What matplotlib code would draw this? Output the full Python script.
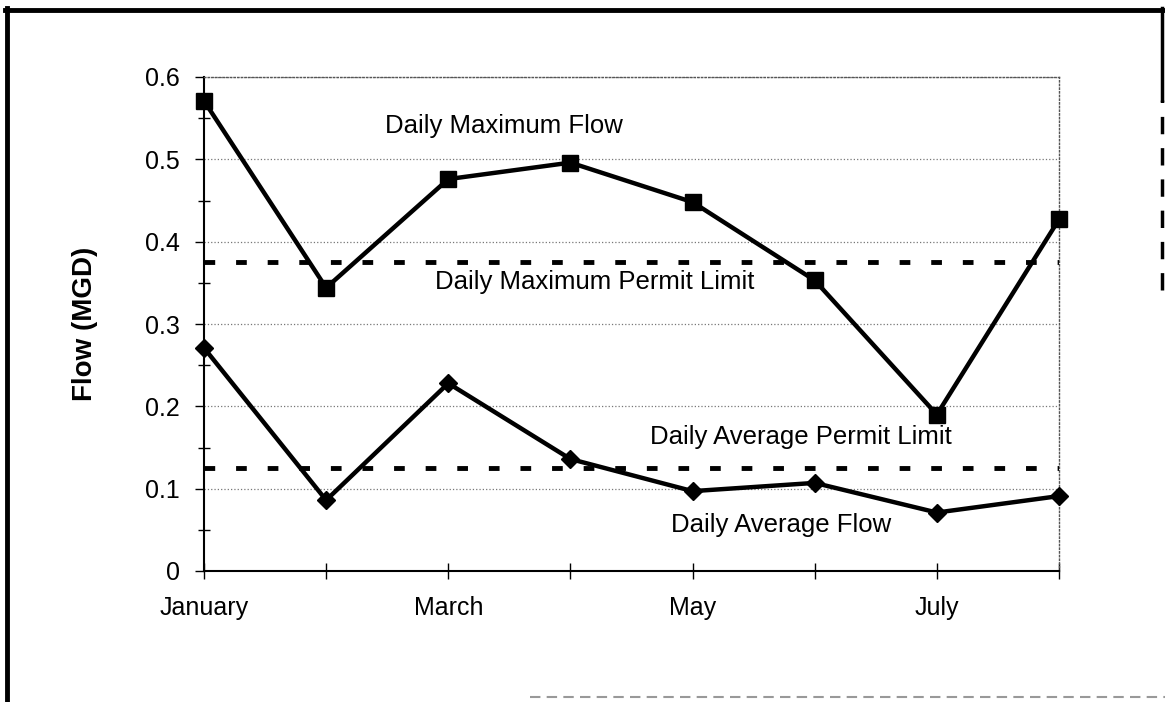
import matplotlib
matplotlib.use("Agg")
import matplotlib.pyplot as plt
from matplotlib import ticker
from matplotlib.lines import Line2D

plt.rcParams['font.family'] = ['Liberation Sans', 'DejaVu Sans']

# data
months = ['January', 'February', 'March', 'April', 'May', 'June', 'July', 'August']
month_labels = ['January', '', 'March', '', 'May', '', 'July', '']
max_flow = [0.571, 0.344, 0.476, 0.496, 0.448, 0.353, 0.190, 0.427]
avg_flow = [0.271, 0.086, 0.228, 0.136, 0.097, 0.107, 0.071, 0.091]
max_limit = 0.375
avg_limit = 0.125

fig = plt.figure(figsize=(11.65, 7.02), dpi=100)
ax = fig.add_axes([204/1165, 1 - 571/702, 855/1165, 494/702])

x = list(range(len(months)))

# permit limits (dashed)
for lim in [max_limit, avg_limit]:
    ax.plot([x[0], x[-1]], [lim, lim], color='black', lw=3.5,
            dashes=(2.2, 4.3), dash_capstyle='butt', zorder=3)

ax.plot(x, max_flow, color='black', lw=3.2, marker='s', markersize=12, zorder=4, clip_on=False)
ax.plot(x, avg_flow, color='black', lw=3.2, marker='D', markersize=9, zorder=4, clip_on=False)

ax.set_xlim(x[0], x[-1])
ax.set_ylim(0, 0.6)

ax.yaxis.set_major_locator(ticker.MultipleLocator(0.1))
ax.yaxis.set_minor_locator(ticker.MultipleLocator(0.05))
ax.yaxis.set_major_formatter(ticker.FuncFormatter(lambda v, p: '0' if abs(v) < 1e-9 else '%.1f' % v))
ax.set_xticks(x)
ax.set_xticklabels(month_labels)

ax.tick_params(axis='y', which='major', direction='out', length=6.5, width=1, labelsize=18, pad=11)
ax.tick_params(axis='y', which='minor', direction='inout', length=8, width=1)
ax.tick_params(axis='x', which='major', direction='inout', length=12, width=1, labelsize=18, pad=12)

ax.grid(axis='y', which='major', linestyle=':', color='#777777', lw=0.9)

for side in ['left', 'bottom']:
    ax.spines[side].set_linewidth(1.5)
for side in ['top', 'right']:
    ax.spines[side].set_linestyle(':')
    ax.spines[side].set_color('#555555')
    ax.spines[side].set_linewidth(1)

ax.set_ylabel('Flow (MGD)', fontsize=20, fontweight='bold')
ax.yaxis.set_label_coords(-0.124, 0.5)

ax.text(1.48, 0.54, 'Daily Maximum Flow', fontsize=18.5, va='center', ha='left')
ax.text(1.89, 0.351, 'Daily Maximum Permit Limit', fontsize=18.5, va='center', ha='left')
ax.text(3.65, 0.163, 'Daily Average Permit Limit', fontsize=18.5, va='center', ha='left')
ax.text(3.82, 0.056, 'Daily Average Flow', fontsize=18.5, va='center', ha='left')

# page frame around the scanned figure
W, H = 1165, 702
fig.add_artist(Line2D([7/W, 7/W], [0, 1 - 8/H], color='black', lw=3.5, transform=fig.transFigure))
fig.add_artist(Line2D([5/W, 1 - 2/W], [1 - 10/H, 1 - 10/H], color='black', lw=3.5, transform=fig.transFigure))
fig.add_artist(Line2D([1 - 3/W, 1 - 3/W], [1 - 100/H, 1 - 8/H], color='black', lw=2.5,
                      transform=fig.transFigure))
fig.add_artist(Line2D([1 - 3/W, 1 - 3/W], [1 - 290/H, 1 - 100/H], color='black', lw=2.5,
                      dashes=(5, 4), transform=fig.transFigure))
fig.add_artist(Line2D([530/W, 1], [1 - 697/H, 1 - 697/H], color='#999999', lw=1.5,
                      dashes=(5, 3), transform=fig.transFigure))

fig.savefig('out.png', dpi=100)
